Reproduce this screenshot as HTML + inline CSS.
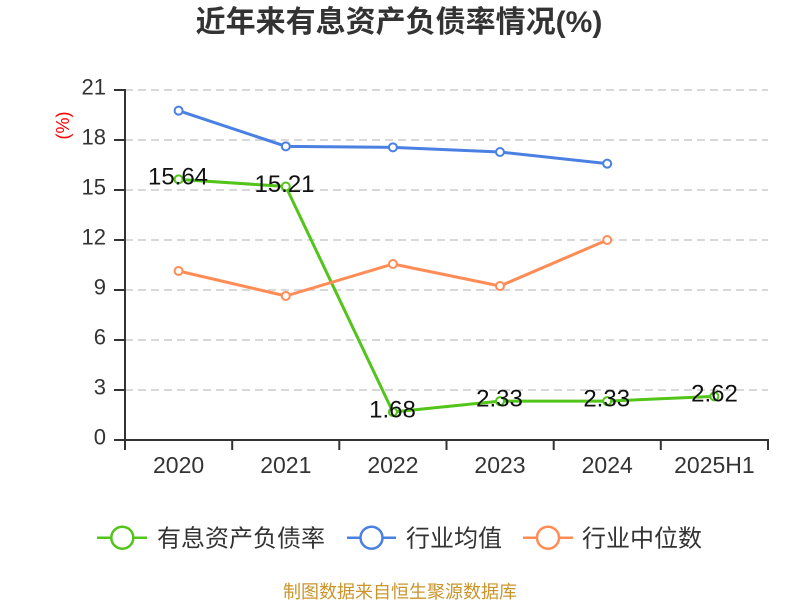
<!DOCTYPE html>
<html>
<head>
<meta charset="utf-8">
<style>
  html, body { margin: 0; padding: 0; background: #ffffff; }
  body { width: 800px; height: 600px; overflow: hidden; }
  svg { display: block; }
  text { font-family: "Liberation Sans", "Noto Sans CJK SC", sans-serif; }
</style>
</head>
<body>
<svg width="800" height="600" viewBox="0 0 800 600" xmlns="http://www.w3.org/2000/svg">
  <rect x="0" y="0" width="800" height="600" fill="#ffffff"/>

  <!-- Title -->
  <text x="399" y="32" text-anchor="middle" font-size="30" font-weight="bold" fill="#333333">近年来有息资产负债率情况(%)</text>

  <!-- Y axis unit -->
  <text x="0" y="0" transform="translate(69,125.5) rotate(-90)" text-anchor="middle" font-size="18" fill="#ff0000">(%)</text>

  <!-- Grid lines -->
  <g stroke="#cccccc" stroke-width="1.5" stroke-dasharray="8 5" fill="none">
    <line x1="125" y1="90" x2="768" y2="90"/>
    <line x1="125" y1="140" x2="768" y2="140"/>
    <line x1="125" y1="190" x2="768" y2="190"/>
    <line x1="125" y1="240" x2="768" y2="240"/>
    <line x1="125" y1="290" x2="768" y2="290"/>
    <line x1="125" y1="340" x2="768" y2="340"/>
    <line x1="125" y1="390" x2="768" y2="390"/>
  </g>

  <!-- Axes -->
  <g stroke="#333333" stroke-width="2" fill="none">
    <line x1="125" y1="89" x2="125" y2="441"/>
    <line x1="124" y1="440" x2="769" y2="440"/>
    <line x1="114" y1="90" x2="125" y2="90"/>
    <line x1="114" y1="140" x2="125" y2="140"/>
    <line x1="114" y1="190" x2="125" y2="190"/>
    <line x1="114" y1="240" x2="125" y2="240"/>
    <line x1="114" y1="290" x2="125" y2="290"/>
    <line x1="114" y1="340" x2="125" y2="340"/>
    <line x1="114" y1="390" x2="125" y2="390"/>
    <line x1="114" y1="440" x2="125" y2="440"/>
    <line x1="125" y1="440" x2="125" y2="450"/>
    <line x1="232.2" y1="440" x2="232.2" y2="450"/>
    <line x1="339.3" y1="440" x2="339.3" y2="450"/>
    <line x1="446.5" y1="440" x2="446.5" y2="450"/>
    <line x1="553.7" y1="440" x2="553.7" y2="450"/>
    <line x1="660.8" y1="440" x2="660.8" y2="450"/>
    <line x1="768" y1="440" x2="768" y2="450"/>
  </g>

  <!-- Y labels -->
  <g font-size="22" fill="#333333" text-anchor="end">
    <text x="106" y="94.4">21</text>
    <text x="106" y="144.4">18</text>
    <text x="106" y="194.4">15</text>
    <text x="106" y="244.4">12</text>
    <text x="106" y="294.4">9</text>
    <text x="106" y="344.4">6</text>
    <text x="106" y="394.4">3</text>
    <text x="106" y="444.4">0</text>
  </g>

  <!-- X labels -->
  <g font-size="23" fill="#333333" text-anchor="middle">
    <text x="178.6" y="473">2020</text>
    <text x="285.8" y="473">2021</text>
    <text x="392.9" y="473">2022</text>
    <text x="500" y="473">2023</text>
    <text x="607.2" y="473">2024</text>
    <text x="714.4" y="473">2025H1</text>
  </g>

  <!-- Series lines -->
  <polyline fill="none" stroke="#52c41a" stroke-width="3" stroke-linejoin="round"
    points="178.6,179.33 285.8,186.5 392.9,412 500,401.17 607.2,401.17 714.4,396.33"/>
  <polyline fill="none" stroke="#4a80e2" stroke-width="3" stroke-linejoin="round"
    points="178.6,110.67 285.8,146.33 392.9,147.33 500,152 607.2,163.67"/>
  <polyline fill="none" stroke="#ff8c55" stroke-width="3" stroke-linejoin="round"
    points="178.6,271 285.8,296 392.9,264 500,286 607.2,240"/>

  <!-- Markers -->
  <g fill="#ffffff" stroke="#52c41a" stroke-width="2">
    <circle cx="178.6" cy="179.33" r="4"/>
    <circle cx="285.8" cy="186.5" r="4"/>
    <circle cx="392.9" cy="412" r="4"/>
    <circle cx="500" cy="401.17" r="4"/>
    <circle cx="607.2" cy="401.17" r="4"/>
    <circle cx="714.4" cy="396.33" r="4"/>
  </g>
  <g fill="#ffffff" stroke="#4a80e2" stroke-width="2">
    <circle cx="178.6" cy="110.67" r="4"/>
    <circle cx="285.8" cy="146.33" r="4"/>
    <circle cx="392.9" cy="147.33" r="4"/>
    <circle cx="500" cy="152" r="4"/>
    <circle cx="607.2" cy="163.67" r="4"/>
  </g>
  <g fill="#ffffff" stroke="#ff8c55" stroke-width="2">
    <circle cx="178.6" cy="271" r="4"/>
    <circle cx="285.8" cy="296" r="4"/>
    <circle cx="392.9" cy="264" r="4"/>
    <circle cx="500" cy="286" r="4"/>
    <circle cx="607.2" cy="240" r="4"/>
  </g>

  <!-- Data labels -->
  <g font-size="24" fill="#111111" text-anchor="middle">
    <text x="178" y="184.6">15.64</text>
    <text x="284.5" y="191.8">15.21</text>
    <text x="392.5" y="417.3">1.68</text>
    <text x="499.5" y="406.5">2.33</text>
    <text x="606.7" y="406.5">2.33</text>
    <text x="714.5" y="401.6">2.62</text>
  </g>

  <!-- Legend -->
  <g stroke-width="2.5" fill="#ffffff">
    <line x1="97" y1="537.7" x2="147" y2="537.7" stroke="#52c41a"/>
    <circle cx="122.3" cy="537.7" r="11" stroke="#52c41a"/>
    <line x1="347" y1="537.7" x2="396" y2="537.7" stroke="#4a80e2"/>
    <circle cx="371.5" cy="537.7" r="11" stroke="#4a80e2"/>
    <line x1="523" y1="537.7" x2="573" y2="537.7" stroke="#ff8c55"/>
    <circle cx="548" cy="537.7" r="11" stroke="#ff8c55"/>
  </g>
  <g font-size="24" fill="#333333">
    <text x="157" y="546.5">有息资产负债率</text>
    <text x="406" y="546.5">行业均值</text>
    <text x="582" y="546.5">行业中位数</text>
  </g>

  <!-- Footer -->
  <text x="400" y="598" text-anchor="middle" font-size="18" fill="#c9952b">制图数据来自恒生聚源数据库</text>
</svg>
</body>
</html>
